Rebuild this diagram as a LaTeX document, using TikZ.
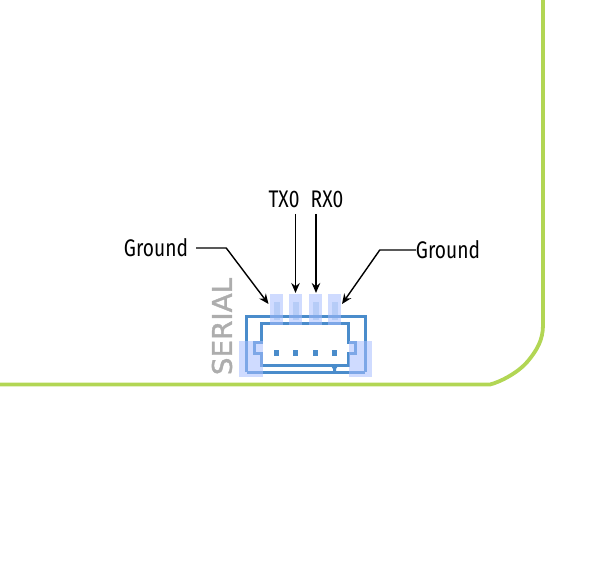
\documentclass[tikz,border=0pt]{standalone}
\usepackage{fontspec}
\usepackage{xcolor}
\usetikzlibrary{arrows.meta}
\setmainfont[FakeStretch=0.8]{Fira Sans}
\newfontfamily\silkfont[FakeStretch=1.03,FakeBold=1.4]{DejaVu Sans}
\definecolor{boardgreen}{HTML}{B2D654}
\definecolor{silkblue}{HTML}{4A8CCB}
\definecolor{padblue}{HTML}{A8BEFF}
\tikzset{
  outline/.style={boardgreen, line width=3.8pt},
  silk/.style={silkblue, line width=3pt},
  padshape/.style={fill=padblue, fill opacity=0.55, draw=none},
  pinshape/.style={fill=silkblue, fill opacity=0.3, draw=none},
  pinlabel/.style={font=\fontsize{24pt}{26pt}\selectfont, text=black, inner sep=0pt},
  callout/.style={black, line width=1.4pt, -{Stealth[length=10pt, width=8.5pt]}},
}
\begin{document}
\begin{tikzpicture}[x=1pt, y=-1pt]
  \useasboundingbox (0,0) rectangle (600,572);
  % board edge
  \draw[outline] (0,384.5) -- (490,384.5) .. controls (500,382) and (518,373) .. (528,361) .. controls (537,350) and (543,340) .. (543,325) -- (543,0);
  % connector body
  \draw[silk] (246.7,372) -- (246.7,316) -- (365,316) -- (365,372);
  \draw[silk] (246.7,372) -- (365,372);
  \draw[silk] (261.7,342) -- (261.7,323) -- (348.3,323) -- (348.3,342) -- (355,342) -- (355,353) -- (348.3,353) -- (348.3,365.5) -- (261.7,365.5) -- (261.7,353) -- (254,353) -- (254,342) -- cycle;
  % contacts
  \foreach \x in {276.5,295.8,315.5,334.8} {
    \fill[silkblue] (\x-2.5,350) rectangle (\x+2.5,356);
    \fill[pinshape] (\x-3,302) rectangle (\x+3,320);
  }
  \fill[silkblue] (330.5,365) -- (338.5,365) -- (336,369) -- (336,372) -- (333,372) -- (333,369) -- cycle;
  % pads
  \foreach \x in {276.5,295.8,315.5,334.8} {
    \fill[padshape] (\x-6.5,294) rectangle (\x+6.5,325);
  }
  \fill[padshape] (239.3,341) rectangle (262.7,376.7);
  \fill[padshape] (349,341) rectangle (372.3,376.7);
  % silkscreen
  \node[rotate=90, font=\silkfont\fontsize{27pt}{28pt}\selectfont, text=black!32, inner sep=0pt] (serial) at (222,326.5) {SERIAL};
  % labels
  \node[pinlabel] (gndleft) at (156,248) {Ground};
  \node[pinlabel] (txzero) at (284,199) {TX0};
  \node[pinlabel] (rxzero) at (327,199) {RX0};
  \node[pinlabel] (gndright) at (448,250) {Ground};
  \coordinate (tipA) at (268.5,304);
  \coordinate (tipB) at (295.5,293);
  \coordinate (tipC) at (316,293);
  \coordinate (tipD) at (342,304);
  \coordinate (startB) at (295.5,214);
  \coordinate (startC) at (316,214);
  % callouts
  \draw[callout] (gndleft.east) ++(8,0) -- ++(30,0) -- (tipA);
  \draw[callout] (startB) -- (tipB);
  \draw[callout] (startC) -- (tipC);
  \draw[callout] (gndright.west) -- ++(-36,0) -- (tipD);
\end{tikzpicture}
\end{document}
